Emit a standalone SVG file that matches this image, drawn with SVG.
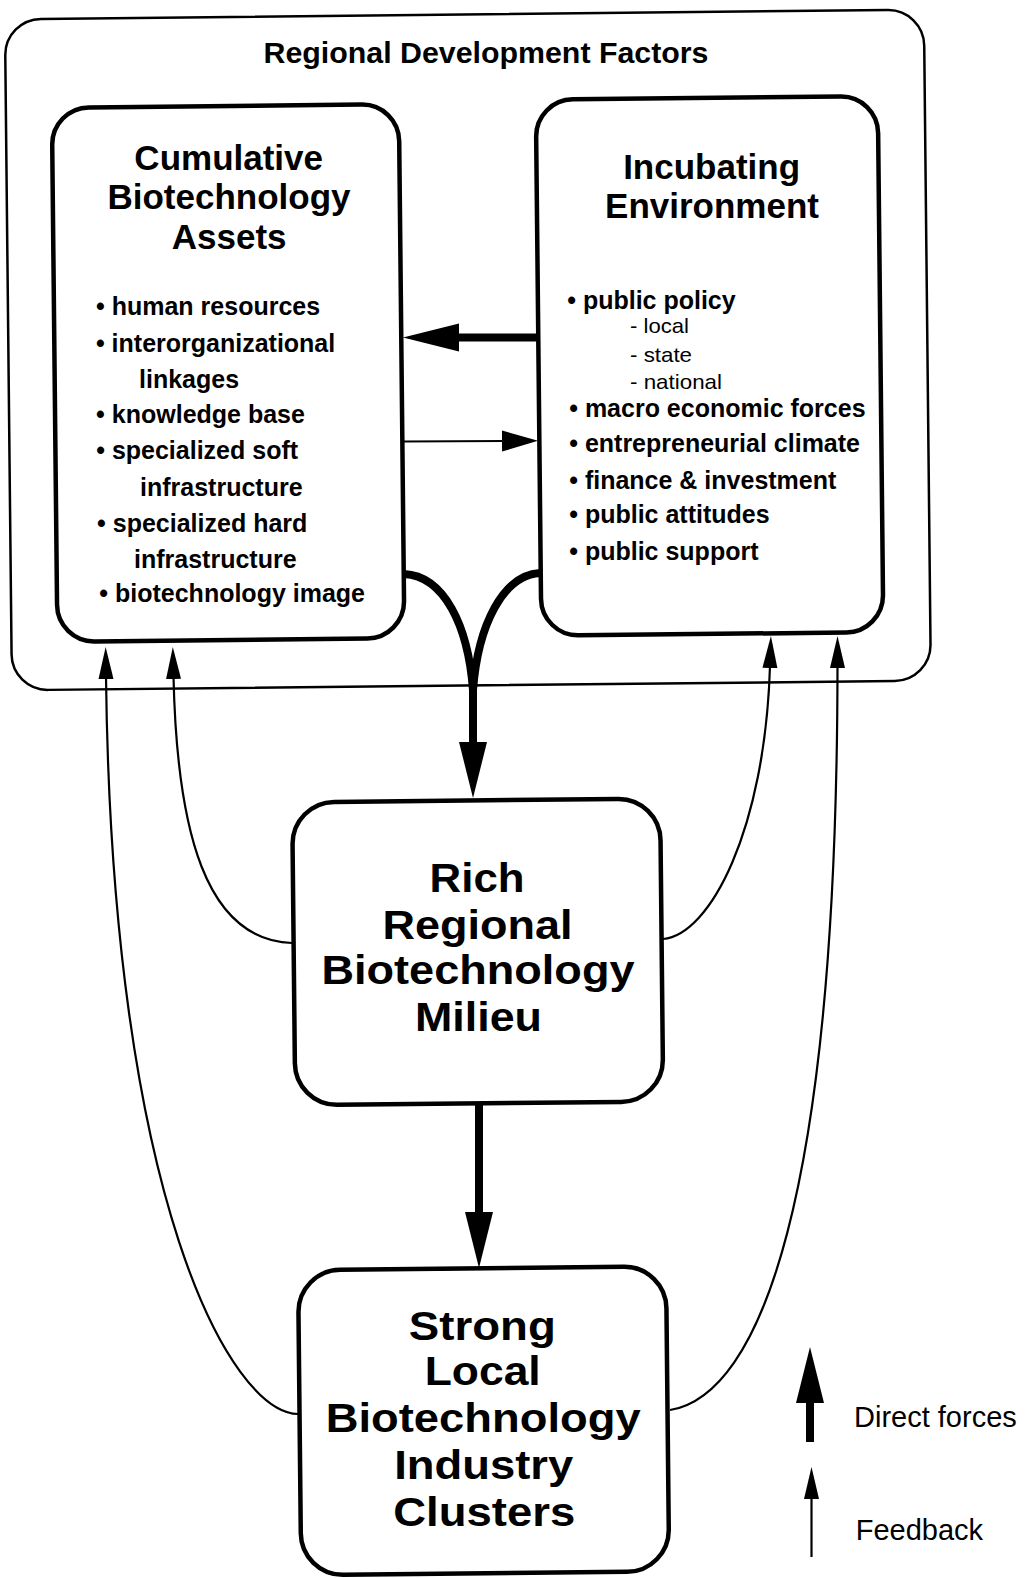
<svg xmlns="http://www.w3.org/2000/svg" width="1029" height="1578" viewBox="0 0 1029 1578">
<defs>
<style>
.box{fill:none;stroke:#000;stroke-width:4.5}
.outer{fill:none;stroke:#000;stroke-width:2.5}
.t{font-family:"Liberation Sans",Arial,Helvetica,sans-serif;fill:#000}
.title{font-size:35px;font-weight:bold;text-anchor:middle}
.big{font-size:40px;font-weight:bold;text-anchor:middle}
.item{font-size:25px;font-weight:bold}
.sub{font-size:21px}
.head{font-size:29px;font-weight:bold;text-anchor:middle}
.legend{font-size:29px}
.thick{fill:none;stroke:#000;stroke-width:8}
.thin{fill:none;stroke:#000;stroke-width:2.2}
</style>
<marker id="hThick" viewBox="0 -15 56 30" refX="2" refY="0" markerWidth="56" markerHeight="30" markerUnits="userSpaceOnUse" orient="auto"><path d="M0,-14 L56,0 L0,14 Z" fill="#000"/></marker>
<marker id="hThin" viewBox="0 -8 32 16" refX="2" refY="0" markerWidth="32" markerHeight="16" markerUnits="userSpaceOnUse" orient="auto"><path d="M0,-7.5 L32,0 L0,7.5 Z" fill="#000"/></marker>
<marker id="hThinH" viewBox="0 -11 36 22" refX="2" refY="0" markerWidth="36" markerHeight="22" markerUnits="userSpaceOnUse" orient="auto"><path d="M0,-10.5 L36,0 L0,10.5 Z" fill="#000"/></marker>
</defs>
<rect x="0" y="0" width="1029" height="1578" fill="#fff"/>

<g id="regional-development-factors">
<rect class="outer" x="13" y="14" width="919" height="671" rx="36" transform="rotate(-0.6 514 789)"/>
<text class="t head" x="486" y="62.9" textLength="445" lengthAdjust="spacingAndGlyphs">Regional Development Factors</text>
</g>

<g id="cumulative-biotechnology-assets">
<rect class="box" x="59" y="103" width="347" height="534" rx="37" transform="rotate(-0.6 514 789)"/>
<text class="t title" x="228.7" y="169.9">Cumulative</text>
<text class="t title" x="229" y="208.9">Biotechnology</text>
<text class="t title" x="229.2" y="248.9">Assets</text>
<text class="t item" x="96" y="314.9">• human resources</text>
<text class="t item" x="95.9" y="351.6">• interorganizational</text>
<text class="t item" x="139" y="387.5">linkages</text>
<text class="t item" x="96.1" y="422.9">• knowledge base</text>
<text class="t item" x="96.2" y="458.9">• specialized soft</text>
<text class="t item" x="140" y="496.1">infrastructure</text>
<text class="t item" x="97.1" y="531.9">• specialized hard</text>
<text class="t item" x="134" y="568">infrastructure</text>
<text class="t item" x="99.3" y="601.5">• biotechnology image</text>
</g>

<g id="incubating-environment">
<rect class="box" x="543" y="100" width="342" height="536" rx="37" transform="rotate(-0.6 514 789)"/>
<text class="t title" x="711.6" y="178.9">Incubating</text>
<text class="t title" x="712" y="218.4">Environment</text>
<text class="t item" x="567.2" y="308.7">• public policy</text>
<text class="t sub" x="630" y="333.2" textLength="59" lengthAdjust="spacingAndGlyphs">- local</text>
<text class="t sub" x="630" y="361.6" textLength="62" lengthAdjust="spacingAndGlyphs">- state</text>
<text class="t sub" x="630" y="389.3" textLength="92" lengthAdjust="spacingAndGlyphs">- national</text>
<text class="t item" x="569.2" y="416.5">• macro economic forces</text>
<text class="t item" x="569.2" y="451.8">• entrepreneurial climate</text>
<text class="t item" x="569.2" y="488.8">• finance &amp; investment</text>
<text class="t item" x="569.2" y="523.1">• public attitudes</text>
<text class="t item" x="569.2" y="560.1">• public support</text>
</g>

<g id="rich-regional-biotechnology-milieu">
<rect class="box" x="292" y="800" width="368" height="303" rx="42" transform="rotate(-0.6 514 789)"/>
<text class="t big" x="477.1" y="892.4" textLength="95" lengthAdjust="spacingAndGlyphs">Rich</text>
<text class="t big" x="477.6" y="938.9" textLength="190" lengthAdjust="spacingAndGlyphs">Regional</text>
<text class="t big" x="478" y="984.4" textLength="313" lengthAdjust="spacingAndGlyphs">Biotechnology</text>
<text class="t big" x="478.5" y="1031.4" textLength="127" lengthAdjust="spacingAndGlyphs">Milieu</text>
</g>

<g id="strong-local-biotechnology-industry-clusters">
<rect class="box" x="293" y="1268" width="368" height="305" rx="42" transform="rotate(-0.6 514 789)"/>
<text class="t big" x="482.3" y="1339.9" textLength="147" lengthAdjust="spacingAndGlyphs">Strong</text>
<text class="t big" x="482.7" y="1385.4" textLength="116" lengthAdjust="spacingAndGlyphs">Local</text>
<text class="t big" x="483.2" y="1432.4" textLength="315" lengthAdjust="spacingAndGlyphs">Biotechnology</text>
<text class="t big" x="483.7" y="1479.4" textLength="179" lengthAdjust="spacingAndGlyphs">Industry</text>
<text class="t big" x="484.2" y="1525.9" textLength="182" lengthAdjust="spacingAndGlyphs">Clusters</text>
</g>

<g id="connectors">
<path class="thick" d="M538,337.5 L457,337.5" marker-end="url(#hThick)"/>
<path class="thin" d="M404,441.5 L504,441" marker-end="url(#hThinH)"/>
<path class="thick" d="M404,574 C444,576 468,625 473,690 L473,744" marker-end="url(#hThick)"/>
<path class="thick" d="M540,573 C503,575 478,625 473,690"/>
<path class="thick" d="M479,1102 L479,1214" marker-end="url(#hThick)"/>
<path class="thin" d="M298,1414 C230,1412 112,1200 106,677" marker-end="url(#hThin)"/>
<path class="thin" d="M292,943 C205,940 177,830 173.5,677" marker-end="url(#hThin)"/>
<path class="thin" d="M663,939 C710,935 765,830 770,666" marker-end="url(#hThin)"/>
<path class="thin" d="M670,1410 C760,1395 837,1200 837.5,666" marker-end="url(#hThin)"/>
</g>

<g id="legend">
<path class="thick" d="M810,1442 L810,1401" marker-end="url(#hThick)"/>
<path class="thin" d="M811.5,1557 L811.5,1497" marker-end="url(#hThin)"/>
<text class="t legend" x="854" y="1427">Direct forces</text>
<text class="t legend" x="855.7" y="1540">Feedback</text>
</g>
</svg>
